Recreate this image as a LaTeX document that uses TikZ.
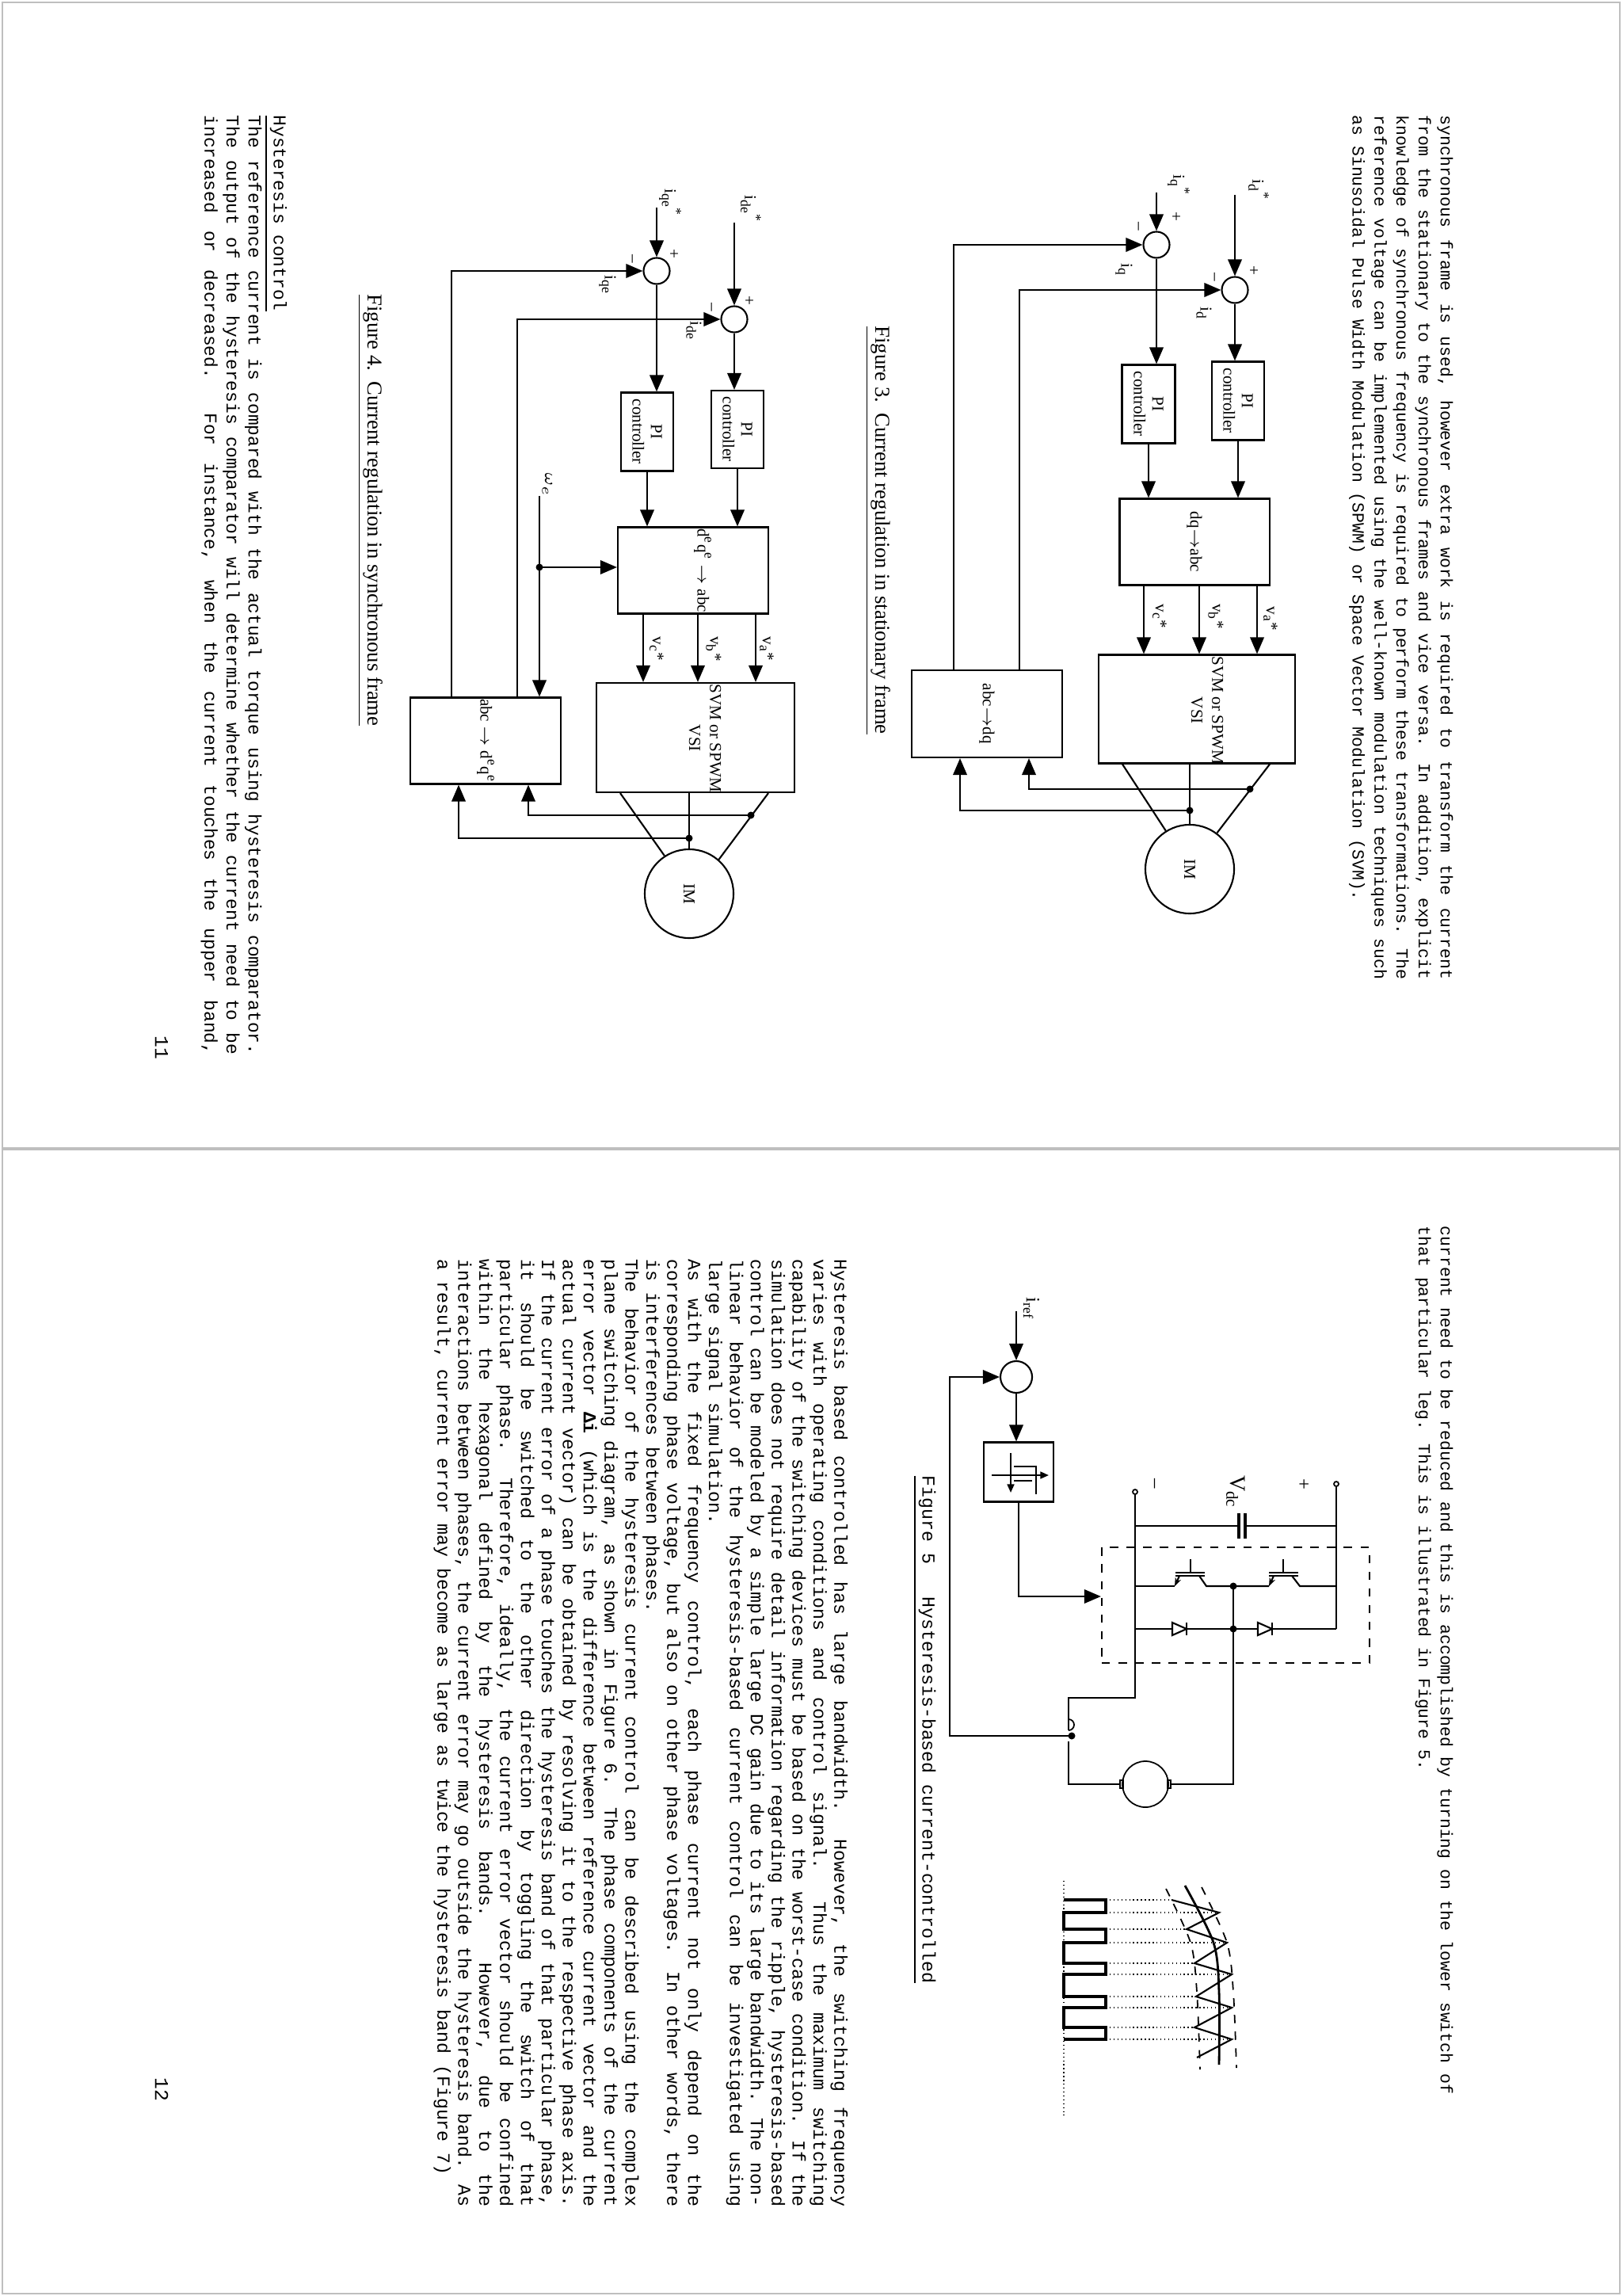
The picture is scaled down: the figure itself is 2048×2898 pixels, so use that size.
\documentclass[tikz,border=0pt]{standalone}
\usepackage{fontspec}
\setmainfont{Liberation Serif}
\newfontfamily\mono{Liberation Mono}
\usetikzlibrary{arrows.meta,calc}
\newcommand\monosetup[2]{\fontsize{#1}{#2}\mono\fontdimen3\font=1.5pt\fontdimen4\font=0.6pt\hyphenpenalty=10000\tolerance=10000\setlength\parindent{0pt}}
\tikzset{
 box/.style={draw, line width=0.6pt, inner sep=0},
 sumc/.style={draw, circle, line width=0.6pt, minimum size=3.3mm, inner sep=0},
 arr/.style={line width=0.6pt, -{Triangle[length=6pt,width=5pt]}},
 ln/.style={line width=0.6pt},
 lbl/.style={rotate=-90, font=\fontsize{6}{6.6}\selectfont, align=center, inner sep=0},
 para/.style={rotate=-90, anchor=north west, inner sep=0, align=justify},
 capt/.style={rotate=-90, anchor=west, inner sep=0},
}
\begin{document}
\begin{tikzpicture}[x=0.01cm,y=-0.01cm]
\useasboundingbox (0,0) rectangle (2048,2898);
\draw[gray!50, line width=0.5pt] (3,3) rectangle (2045,1449);
\draw[gray!50, line width=0.5pt] (3,1451) rectangle (2045,2895);

% ---------- page 11 text ----------
\node[para, text width=109mm, font=\monosetup{6.1}{7.9}] (p11a) at (1835,145) {synchronous frame is used, however extra work is required to transform the current\linebreak from the stationary to the synchronous frames and vice versa. In addition, explicit\linebreak knowledge of synchronous frequency is required to perform these transformations. The\linebreak reference voltage can be implemented using the well-known modulation techniques such\linebreak as Sinusoidal Pulse Width Modulation (SPWM) or Space Vector Modulation (SVM).};
\node[para, text width=118.5mm, font=\monosetup{6.5}{7.9}] (p11b) at (363,145) {\underline{Hysteresis control}\par The reference current is compared with the actual torque using hysteresis comparator.\linebreak The output of the hysteresis comparator will determine whether the current need to be\linebreak increased or decreased. For instance, when the current touches the upper band,\linebreak};
\node[rotate=-90, font=\monosetup{7}{8}] (pn11) at (204,1322) {11};

% ---------- Figure 3 ----------
\node[sumc] (sd) at (1559,366) {};
\node[sumc] (sq) at (1460,309) {};
\coordinate (idin) at (1559,246);
\coordinate (iqin) at (1460,243);
\draw[arr] (idin) -- (sd.north);
\draw[arr] (iqin) -- (sq.north);
\node[box, minimum width=6.6mm, minimum height=9.9mm] (pid) at (1563,506) {};
\node[lbl] at (pid) {PI\\controller};
\node[box, minimum width=6.7mm, minimum height=9.9mm] (piq) at (1450,510) {};
\node[lbl] at (piq) {PI\\controller};
\draw[arr] (sd.south) -- (sd.south |- pid.north);
\draw[arr] (sq.south) -- (sq.south |- piq.north);
\node[box, minimum width=18.9mm, minimum height=10.9mm] (dq) at (1508,684) {};
\node[lbl] at (dq) {dq$\rightarrow$abc};
\draw[arr] (pid.south) -- (pid.south |- dq.north);
\draw[arr] (piq.south) -- (piq.south |- dq.north);
\node[box, minimum width=24.8mm, minimum height=13.7mm] (svm) at (1511,895) {};
\node[lbl, font=\fontsize{6}{7.5}\selectfont] at (1524,897) {SVM or SPWM\\VSI};
\foreach \dx in {79,6,-64} \draw[arr] ($(dq.south)+(\dx,0)$) -- ($(svm.north)+(\dx-3,0)$);
\node[box, minimum width=19mm, minimum height=11mm] (abc) at (1246,901) {};
\node[lbl] at (abc) {abc$\rightarrow$dq};
\draw[arr] ($(abc.north)+(-42,0)$) |- (sq.west);
\draw[arr] ($(abc.north)+(41,0)$) |- (sd.west);
\node[draw, circle, ln, minimum size=11.2mm, inner sep=0] (im) at (1502,1097) {};
\node[lbl] at (im) {IM};
\draw[ln] ($(svm.south)+(-94,0)$) -- (im.122);
\draw[ln] (im.north) -- (im.north |- svm.south);
\draw[ln] ($(svm.south)+(92,0)$) -- (im.53);
\coordinate (j3a) at (1578,996);
\coordinate (j3b) at (1502,1023);
\fill (j3a) circle (4.5); \fill (j3b) circle (4.5);
\draw[arr] (j3a) -| ($(abc.south)+(53,0)$);
\draw[arr] (j3b) -| ($(abc.south)+(-34,0)$);
\node[lbl] at (1589,240) {i\textsubscript{d}\textsuperscript{*}};
\node[lbl] at (1488,234) {i\textsubscript{q}\textsuperscript{*}};
\node[lbl] at (1582,341) {+};
\node[lbl] at (1531,350) {\textendash};
\node[lbl] at (1484,273) {+};
\node[lbl] at (1435,286) {\textendash};
\node[lbl] at (1419,341) {i\textsubscript{q}};
\node[lbl] at (1520,396) {i\textsubscript{d}};
\node[lbl] at (1604,781) {v\textsubscript{a}*};
\node[lbl] at (1535,778) {v\textsubscript{b}*};
\node[lbl] at (1464,778) {v\textsubscript{c}*};
\node[capt, font=\fontsize{7.6}{9}\selectfont] (c3) at (1108,411) {\underline{Figure 3.\ \ Current regulation in stationary frame}};

% ---------- Figure 4 ----------
\node[sumc] (sde) at (927,403) {};
\node[sumc] (sqe) at (829,342) {};
\coordinate (idein) at (927,281);
\coordinate (iqein) at (829,262);
\draw[arr] (idein) -- (sde.north);
\draw[arr] (iqein) -- (sqe.north);
\node[box, minimum width=6.6mm, minimum height=9.8mm] (pide) at (931,542) {};
\node[lbl] at (pide) {PI\\controller};
\node[box, minimum width=6.6mm, minimum height=9.9mm] (piqe) at (817,545) {};
\node[lbl] at (piqe) {PI\\controller};
\draw[arr] (sde.south) -- (sde.south |- pide.north);
\draw[arr] (sqe.south) -- (sqe.south |- piqe.north);
\node[box, minimum width=19mm, minimum height=10.9mm] (deqe) at (875,720) {};
\node[lbl] at (887,720) {d\textsuperscript{e}q\textsuperscript{e} $\rightarrow$ abc};
\draw[arr] (pide.south) -- (pide.south |- deqe.north);
\draw[arr] (piqe.south) -- (piqe.south |- deqe.north);
\node[box, minimum width=24.9mm, minimum height=13.8mm] (svm4) at (878,931) {};
\node[lbl, font=\fontsize{6}{7.5}\selectfont] at (890,932) {SVM or SPWM\\VSI};
\foreach \dx in {79,6,-63} \draw[arr] ($(deqe.south)+(\dx,0)$) -- ($(svm4.north)+(\dx-3,0)$);
\node[box, minimum width=19mm, minimum height=10.9mm] (abc4) at (613,935) {};
\node[lbl] at (613,935) {abc $\rightarrow$ d\textsuperscript{e}q\textsuperscript{e}};
\draw[arr] ($(abc4.north)+(-43,0)$) |- (sqe.west);
\draw[arr] ($(abc4.north)+(40,0)$) |- (sde.west);
\coordinate (we) at (681,626);
\coordinate (j4w) at (681,716);
\draw[arr] (we) -- (we |- abc4.north);
\fill (j4w) circle (4.5);
\draw[arr] (j4w) -- (j4w -| deqe.west);
\node[lbl] at (691,612) {$\omega_e$};
\node[draw, circle, ln, minimum size=11.2mm, inner sep=0] (im4) at (870,1128) {};
\node[lbl] at (im4) {IM};
\draw[ln] ($(svm4.south)+(-95,0)$) -- (im4.123);
\draw[ln] (im4.north) -- (im4.north |- svm4.south);
\draw[ln] ($(svm4.south)+(92,0)$) -- (im4.49);
\coordinate (j4a) at (948,1029);
\coordinate (j4b) at (870,1058);
\fill (j4a) circle (4.5); \fill (j4b) circle (4.5);
\draw[arr] (j4a) -| ($(abc4.south)+(54,0)$);
\draw[arr] (j4b) -| ($(abc4.south)+(-34,0)$);
\node[lbl] at (948,264) {i\textsubscript{de}\textsuperscript{*}};
\node[lbl] at (846,256) {i\textsubscript{qe}\textsuperscript{*}};
\node[lbl] at (850,320) {+};
\node[lbl] at (796,327) {\textendash};
\node[lbl] at (945,379) {+};
\node[lbl] at (896,388) {\textendash};
\node[lbl] at (767,360) {i\textsubscript{qe}};
\node[lbl] at (876,418) {i\textsubscript{de}};
\node[lbl] at (968,819) {v\textsubscript{a}*};
\node[lbl] at (901,819) {v\textsubscript{b}*};
\node[lbl] at (829,819) {v\textsubscript{c}*};
\node[capt, font=\fontsize{7.6}{9}\selectfont] (c4) at (467,371) {\underline{Figure 4.\ \ Current regulation in synchronous frame}};

% ---------- page 12 text ----------
\node[para, text width=109.5mm, font=\monosetup{6.1}{7.9}] (p12a) at (1835,1547) {current need to be reduced and this is accomplished by turning on the lower switch of\linebreak that particular leg. This is illustrated in Figure 5.};
\node[para, text width=119.5mm, font=\monosetup{6.6}{7.5}] (p12b) at (1071,1589) {Hysteresis based controlled has large bandwidth. However, the switching frequency\linebreak varies with operating conditions and control signal. Thus the maximum switching\linebreak capability of the switching devices must be based on the worst-case condition. If the\linebreak simulation does not require detail information regarding the ripple, hysteresis-based\linebreak control can be modeled by a simple large DC gain due to its large bandwidth. The non-\linebreak linear behavior of the hysteresis-based current control can be investigated using\linebreak large signal simulation.\par
As with the fixed frequency control, each phase current not only depend on the\linebreak corresponding phase voltage, but also on other phase voltages. In other words, there\linebreak is interferences between phases.\par
The behavior of the hysteresis current control can be described using the complex\linebreak plane switching diagram, as shown in Figure 6. The phase components of the current\linebreak error vector \textbf{Δi} (which is the difference between reference current vector and the\linebreak actual current vector) can be obtained by resolving it to the respective phase axis.\linebreak If the current error of a phase touches the hysteresis band of that particular phase,\linebreak it should be switched to the other direction by toggling the switch of that\linebreak particular phase. Therefore, ideally, the current error vector should be confined\linebreak within the hexagonal defined by the hysteresis bands. However, due to the\linebreak interactions between phases, the current error may go outside the hysteresis band. As\linebreak a result, current error may become as large as twice the hysteresis band (Figure 7)};
\node[rotate=-90, font=\monosetup{7}{8}] (pn12) at (204,2637) {12};

% ---------- Figure 5 ----------
\coordinate (iref) at (1283,1655);
\node[sumc, minimum size=4mm] (c5) at (1283,1738) {};
\draw[arr] (iref) -- (c5.north);
\node[lbl, font=\fontsize{7}{8}\selectfont] at (1302,1652) {i\textsubscript{ref}};
\node[box, minimum width=8.8mm, minimum height=7.5mm] (hyst) at (1286,1858) {};
\draw[arr] (c5.south) -- (c5.south |- hyst.north);
\begin{scope}[line width=0.6pt]
\draw[-{Triangle[length=3pt,width=2.5pt]}] (1252,1862) -- (1324,1862);
\draw[-{Triangle[length=3pt,width=2.5pt]}] (1276,1834) -- (1276,1884);
\draw (1280,1851) -- (1308,1851) -- (1308,1886);
\draw (1280,1869) -- (1303,1869);
\end{scope}
\node[draw, dashed, line width=0.6pt, minimum width=33.8mm, minimum height=14.6mm, inner sep=0] (bridge) at (1560,2026) {};
\draw[arr] (hyst.south) |- (bridge.west |- 0,2015);
% rails
\coordinate (tm) at (1433,1883);
\coordinate (tp) at (1687,1873);
\draw[line width=0.5pt, fill=white] (tm) circle (3); \draw[line width=0.5pt, fill=white] (tp) circle (3);
\draw[ln] ($(tm)+(0,3)$) -- (1433,2143) -- (1349,2143) -- (1349,2184);
\draw[ln] ($(tp)+(0,3)$) -- (1687,2056);
\draw[ln] (1433,1926) -- (1564,1926); \draw[ln] (1572,1926) -- (1687,1926);
\draw[line width=0.9pt] (1564,1910) -- (1564,1942); \draw[line width=0.9pt] (1572,1910) -- (1572,1942);
\node[lbl, font=\fontsize{8}{9}\selectfont] at (1560,1883) {V\textsubscript{dc}};
\node[lbl, font=\fontsize{7}{8}\selectfont] at (1645,1873) {+};
\node[lbl, font=\fontsize{7}{8}\selectfont] at (1455,1873) {\textendash};
% IGBTs
\draw[ln] (1433,2002) -- (1483,2002);
\draw[ln, -{Stealth[length=3pt]}] (1489,1989) -- (1483,2002);
\draw[ln] (1503,1968) -- (1503,1985);
\draw[ln] (1484,1985) -- (1521,1985); \draw[ln] (1484,1989) -- (1521,1989);
\draw[ln] (1514,1989) -- (1523,2002) -- (1602,2002);
\draw[ln, -{Stealth[length=3pt]}] (1608,1989) -- (1602,2002);
\draw[ln] (1620,1968) -- (1620,1985);
\draw[ln] (1602,1985) -- (1639,1985); \draw[ln] (1602,1989) -- (1639,1989);
\draw[ln] (1631,1989) -- (1641,2002) -- (1687,2002);
% diodes
\draw[ln] (1433,2056) -- (1480,2056);
\draw[ln] (1480,2048) -- (1498,2056) -- (1480,2064) -- cycle;
\draw[ln] (1498,2048) -- (1498,2064);
\draw[ln] (1498,2056) -- (1588,2056);
\draw[ln] (1588,2048) -- (1606,2056) -- (1588,2064) -- cycle;
\draw[ln] (1606,2048) -- (1606,2064);
\draw[ln] (1606,2056) -- (1687,2056);
\coordinate (mid1) at (1557,2002); \coordinate (mid2) at (1557,2056);
\fill (mid1) circle (4.5); \fill (mid2) circle (4.5);
\draw[ln] (mid1) -- (1557,2252) -- (1478,2252);
% sensor and motor
\coordinate (sens) at (1353,2191);
\fill (sens) circle (4.5);
\draw[line width=0.5pt] (1349,2184) arc (90:-90:7);
\draw[ln] (1349,2198) -- (1349,2252) -- (1414,2252);
\node[draw, circle, line width=0.5pt, minimum size=5.8mm, inner sep=0] (dcm) at (1446,2252) {};
\draw[line width=0.5pt] (1414,2247) rectangle (1418,2257);
\draw[line width=0.5pt] (1474,2247) rectangle (1478,2257);
\draw[arr] (sens) -- (1199,2191) |- (c5.west);
\node[capt, font=\monosetup{6.6}{8}] (c5cap) at (1167,1862) {\underline{Figure 5\ \ \ Hysteresis-based current-controlled}};
% waveform
\draw[densely dotted, line width=0.4pt] (1343,2374) -- (1343,2670);
\draw[line width=1.3pt] (1343,2398) -- (1396,2398) -- (1396,2414) -- (1343,2414) -- (1343,2435) -- (1396,2435) -- (1396,2452) -- (1343,2452) -- (1343,2478) -- (1396,2478) -- (1396,2492) -- (1343,2492) -- (1343,2520) -- (1396,2520) -- (1396,2534) -- (1343,2534) -- (1343,2559) -- (1396,2559) -- (1396,2574) -- (1343,2574);
\foreach \yy/\xx in {2398/1479,2414/1539,2435/1498,2452/1549,2478/1508,2492/1555,2520/1510,2534/1555,2559/1508,2574/1555}
  \draw[densely dotted, line width=0.4pt] (1396,\yy) -- (\xx,\yy);
\draw[line width=0.6pt] (1479,2398) -- (1539,2414) -- (1498,2435) -- (1549,2452) -- (1508,2478) -- (1555,2492) -- (1510,2520) -- (1555,2534) -- (1508,2559) -- (1555,2574) -- (1511,2597);
\draw[line width=0.8pt] plot[smooth] coordinates {(1496,2380) (1532,2452) (1539,2514) (1539,2606)};
\draw[dashed, line width=0.5pt] plot[smooth] coordinates {(1472,2384) (1503,2452) (1511,2514) (1515,2612)};
\draw[dashed, line width=0.5pt] plot[smooth] coordinates {(1517,2382) (1549,2452) (1557,2514) (1561,2610)};
\end{tikzpicture}
\end{document}
